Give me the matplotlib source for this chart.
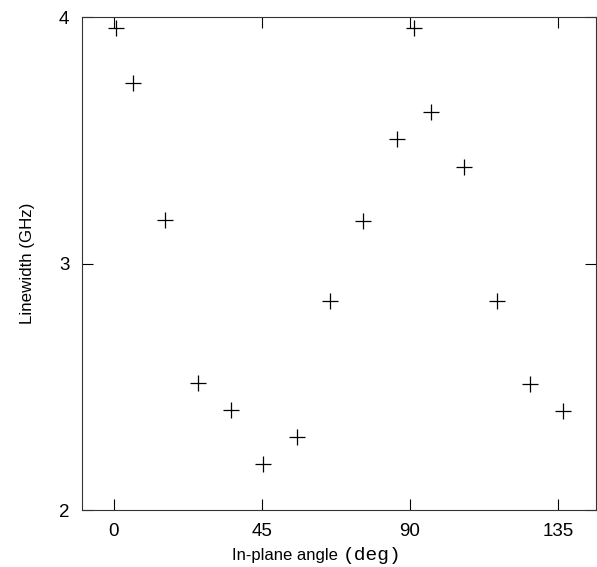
import matplotlib
matplotlib.use("Agg")
import matplotlib.pyplot as plt

angle = [0.6, 5.8, 15.5, 25.5, 35.5, 45.3, 55.6, 65.6, 75.7, 86.0, 91.2, 96.3, 106.4, 116.4, 126.4, 136.5]
linewidth = [3.955, 3.732, 3.176, 2.515, 2.406, 2.187, 2.296, 2.848, 3.172, 3.505, 3.955, 3.615, 3.391, 2.848, 2.511, 2.402]
xticks = [0, 45, 90, 135]
yticks = [2, 3, 4]

plt.rcParams['font.family'] = ['Liberation Sans', 'DejaVu Sans']
fig = plt.figure(figsize=(5.97, 5.67), dpi=100)
ax = fig.add_axes([0.137, 0.1005, 0.861, 0.8695])
ax.plot(angle, linewidth, linestyle='none', marker='+', markersize=11,
        markeredgewidth=0.9, color='black')
ax.set_xlim(-9.7, 146.5)
ax.set_ylim(2, 4)
ax.set_xticks(xticks)
ax.set_yticks(yticks)
ax.tick_params(direction='in', length=8, width=0.8, top=True, right=True,
               labelsize=13.5, pad=9, colors='black')
for s in ax.spines.values():
    s.set_linewidth(0.8)
    s.set_color('#333333')
ax.set_ylabel('Linewidth (GHz)', fontsize=12.2, labelpad=17)
fig.text(0.5745, 0.0123, 'In-plane angle ', fontsize=12, ha='right', va='baseline')
fig.text(0.5745, 0.0123, '(deg)', fontsize=14, ha='left', va='baseline', family='Liberation Mono')
fig.savefig('out.png', dpi=100)
